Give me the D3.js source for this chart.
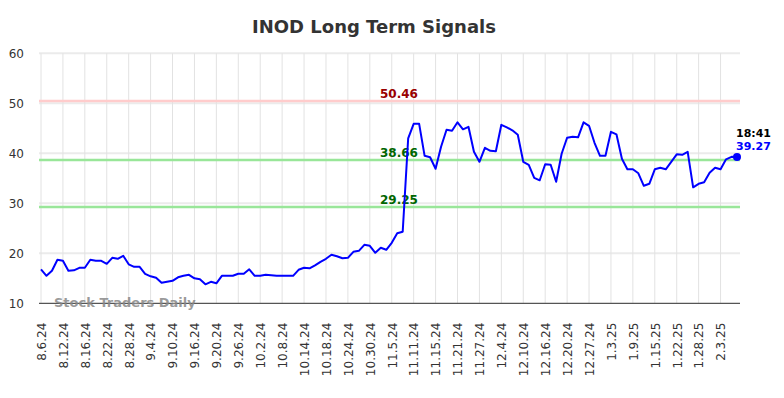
<!DOCTYPE html>
<html>
<head>
<meta charset="utf-8">
<script src="https://cdn.jsdelivr.net/npm/d3@7"></script>
<style>
  html, body { margin: 0; padding: 0; background: #fff; }
  svg { display: block; font-family: "DejaVu Sans", sans-serif; }
</style>
</head>
<body>
<svg id="chart" width="784" height="398"></svg>
<script>
const title = "INOD Long Term Signals";
const tickLabels = ["8.6.24","8.12.24","8.16.24","8.22.24","8.28.24","9.4.24","9.10.24","9.16.24","9.20.24","9.26.24","10.2.24","10.8.24","10.14.24","10.18.24","10.24.24","10.30.24","11.5.24","11.11.24","11.15.24","11.21.24","11.27.24","12.4.24","12.10.24","12.16.24","12.20.24","12.27.24","1.3.25","1.9.25","1.15.25","1.22.25","1.28.25","2.3.25"];
const tickStep = 4;
const prices = [
  16.8,15.5,16.5,18.7,18.5,16.5,16.6,17.1,17.1,18.7,
  18.5,18.5,17.9,19.1,18.9,19.5,17.8,17.3,17.3,15.9,
  15.4,15.1,14.1,14.3,14.5,15.2,15.5,15.7,15.0,14.8,
  13.8,14.3,14.0,15.5,15.5,15.5,15.9,15.9,16.8,15.5,
  15.5,15.7,15.6,15.5,15.5,15.5,15.5,16.7,17.1,17.0,
  17.6,18.3,18.9,19.7,19.4,19.0,19.1,20.3,20.5,21.7,
  21.5,20.1,21.1,20.7,22.1,24.0,24.3,43.0,45.9,45.9,
  39.5,39.2,36.9,41.3,44.7,44.5,46.2,44.8,45.3,40.3,
  38.3,41.1,40.5,40.4,45.7,45.2,44.6,43.7,38.3,37.7,
  35.1,34.6,37.8,37.7,34.3,39.9,43.1,43.3,43.2,46.2,
  45.5,42.1,39.5,39.5,44.3,43.8,38.9,36.8,36.8,36.0,
  33.5,33.9,36.8,37.1,36.8,38.3,39.8,39.7,40.3,33.2,
  33.9,34.2,36.1,37.1,36.8,38.8,39.3,39.27
];
const yTicks = [10, 20, 30, 40, 50, 60];
const signalLevels = [50.46, 38.66, 29.25];
const signalKinds = ["resistance", "support", "support"];
const lastTime = "18:41";
const watermark = "Stock Traders Daily";

const svg = d3.select("#chart");
const plotLeft = 39, plotRight = 740, plotTop = 53.3, plotBottom = 303.3;

const x = d3.scaleLinear().domain([0, prices.length - 1]).range([41, 737]);
const y = d3.scaleLinear().domain([10, 60]).range([plotBottom, plotTop]);

// horizontal grid
svg.append("g").selectAll("line").data(yTicks.filter(d => d !== 10)).join("line")
  .attr("x1", plotLeft).attr("x2", plotRight)
  .attr("y1", d => y(d)).attr("y2", d => y(d))
  .attr("stroke", "#ebebeb").attr("stroke-width", 2);

// vertical grid
const tickIdx = tickLabels.map((_, i) => i * tickStep);
svg.append("g").selectAll("line").data(tickIdx).join("line")
  .attr("x1", d => x(d)).attr("x2", d => x(d))
  .attr("y1", plotTop).attr("y2", plotBottom)
  .attr("stroke", "#e2e2e2").attr("stroke-width", 1);

// y axis labels
const yAxis = d3.axisLeft(y).tickValues(yTicks).tickSize(0).tickPadding(0);
const gy = svg.append("g").attr("transform", "translate(24,0)").call(yAxis);
gy.select(".domain").remove();
gy.selectAll("text").attr("font-size", 12).attr("fill", "#333").attr("font-family", "DejaVu Sans");

// x axis labels
const xAxis = d3.axisBottom(x).tickValues(tickIdx).tickSize(0)
  .tickFormat((d, i) => tickLabels[i]);
const gx = svg.append("g").attr("transform", `translate(0,${plotBottom})`).call(xAxis);
gx.select(".domain").remove();
gx.selectAll("text")
  .attr("font-size", 12).attr("fill", "#333").attr("font-family", "DejaVu Sans")
  .attr("text-anchor", "end")
  .attr("transform", "translate(0,19.4) rotate(-90)")
  .attr("x", 0).attr("y", 0).attr("dy", "0.36em");

// signal lines
const sigColor = k => k === "resistance" ? "#ffcccc" : "#99e699";
const sigText = k => k === "resistance" ? "#990000" : "#006600";
svg.append("g").selectAll("line").data(signalLevels).join("line")
  .attr("x1", plotLeft).attr("x2", plotRight)
  .attr("y1", d => y(d)).attr("y2", d => y(d))
  .attr("stroke", (d, i) => sigColor(signalKinds[i])).attr("stroke-width", 2.5);
svg.append("g").selectAll("text").data(signalLevels).join("text")
  .attr("x", 399).attr("y", d => y(d) - 3.5)
  .attr("text-anchor", "middle").attr("font-size", 12).attr("font-weight", "bold")
  .attr("fill", (d, i) => sigText(signalKinds[i]))
  .text(d => d.toFixed(2));

// axis baseline
svg.append("line").attr("x1", plotLeft).attr("x2", plotRight)
  .attr("y1", plotBottom).attr("y2", plotBottom)
  .attr("stroke", "#555").attr("stroke-width", 1.2);

// watermark
svg.append("text").attr("x", 54).attr("y", 306.7)
  .attr("font-size", 13).attr("font-weight", "bold")
  .attr("fill", "#888").attr("fill-opacity", 0.85).text(watermark);

// price line
const line = d3.line().x((d, i) => x(i)).y(d => y(d));
svg.append("path").datum(prices).attr("d", line)
  .attr("fill", "none").attr("stroke", "#0000ff").attr("stroke-width", 2)
  .attr("stroke-linejoin", "round");

// last point
const li = prices.length - 1;
svg.append("circle").attr("cx", x(li)).attr("cy", y(prices[li])).attr("r", 4).attr("fill", "#0000ff");
svg.append("text").attr("x", 736).attr("y", 136.7).attr("font-size", 11).attr("font-weight", "bold")
  .attr("fill", "#000").text(lastTime);
svg.append("text").attr("x", 736).attr("y", 149.5).attr("font-size", 11).attr("font-weight", "bold")
  .attr("fill", "#0000ff").text(prices[li].toFixed(2));

// title
svg.append("text").attr("x", 374).attr("y", 32.5).attr("text-anchor", "middle")
  .attr("font-size", 18).attr("font-weight", "bold").attr("fill", "#333").text(title);
</script>
</body>
</html>
